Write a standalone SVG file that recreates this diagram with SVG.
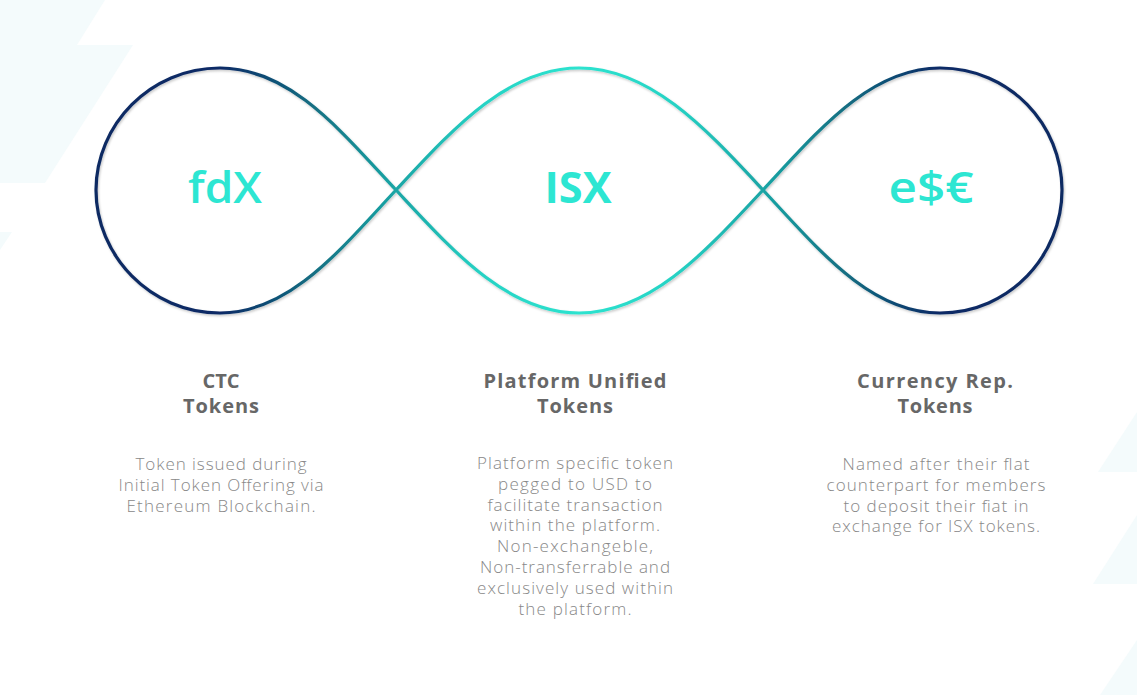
<svg xmlns="http://www.w3.org/2000/svg" width="1137" height="695" viewBox="0 0 1137 695">
  <defs>
    <linearGradient id="wave" gradientUnits="userSpaceOnUse" x1="96" y1="0" x2="1062" y2="0">
      <stop offset="0" stop-color="#0c2962"/>
      <stop offset="0.13" stop-color="#0d2b66"/>
      <stop offset="0.23" stop-color="#137284"/>
      <stop offset="0.31" stop-color="#1aa5a5"/>
      <stop offset="0.40" stop-color="#26d2c4"/>
      <stop offset="0.50" stop-color="#2de3cf"/>
      <stop offset="0.60" stop-color="#26d2c4"/>
      <stop offset="0.69" stop-color="#1aa5a5"/>
      <stop offset="0.77" stop-color="#137284"/>
      <stop offset="0.87" stop-color="#0d2b66"/>
      <stop offset="1" stop-color="#0c2962"/>
    </linearGradient>
    <filter id="shadow" x="-5%" y="-10%" width="110%" height="120%">
      <feDropShadow dx="1" dy="1.5" stdDeviation="1" flood-color="#000" flood-opacity="0.22"/>
    </filter>
  </defs>
  <style>
    .bg { fill: #f4fbfc; }
    .big { font-family: "Open Sans", "Liberation Sans", sans-serif; font-weight: 600; font-size: 43px; fill: #2de6d2; text-anchor: middle; }
    .head { font-family: "Open Sans", "Liberation Sans", sans-serif; font-weight: 700; font-size: 20px; fill: #676767; text-anchor: middle; }
    .body { font-family: "Open Sans", "Liberation Sans", sans-serif; font-weight: 300; font-size: 17px; fill: #888888; text-anchor: middle; }
    .wave { fill: none; stroke: url(#wave); stroke-width: 3.2; filter: url(#shadow); }
  </style>
  <rect width="1137" height="695" fill="#ffffff"/>
  <g id="background">
    <polygon class="bg" points="0,0 105,0 77,45 133,45 45,183 0,183"/>
    <polygon class="bg" points="0,232 12,232 0,250"/>
    <polygon class="bg" points="1137,412 1098,472 1137,472"/>
    <polygon class="bg" points="1137,515 1093,584 1137,584"/>
    <polygon class="bg" points="1137,640 1100,695 1137,695"/>
  </g>
  <g id="connectors">
    <path class="wave" d="M 396,190 C 340,130 290,68 220,68 C 150,68 96,125 96,190 C 96,255 150,313 220,313 C 290,313 340,250 396,190 C 452,250 507,313 579,313 C 651,313 707,250 763,190 C 819,130 870,68 940,68 C 1010,68 1062,125 1062,190 C 1062,255 1010,313 940,313 C 870,313 819,250 763,190 C 707,130 651,68 579,68 C 507,68 452,130 396,190 Z"/>
  </g>
  <g id="node-fdx">
    <text class="big" x="225" y="203" textLength="74" lengthAdjust="spacingAndGlyphs">fdX</text>
    <text class="head" x="221" y="388">CTC</text>
    <text class="head" x="221" y="413" textLength="76">Tokens</text>
    <text class="body" x="221" y="470" textLength="171">Token issued during</text>
    <text class="body" x="221" y="490.8" textLength="205">Initial Token Offering via</text>
    <text class="body" x="221" y="511.6" textLength="189">Ethereum Blockchain.</text>
  </g>
  <g id="node-isx">
    <text class="big" x="578" y="203" textLength="67" lengthAdjust="spacingAndGlyphs" style="font-weight:700">ISX</text>
    <text class="head" x="575" y="388" textLength="183">Platform Unified</text>
    <text class="head" x="575" y="413" textLength="76">Tokens</text>
    <text class="body" x="575" y="469" textLength="196">Platform specific token</text>
    <text class="body" x="575" y="489.8" textLength="154">pegged to USD to</text>
    <text class="body" x="575" y="510.6" textLength="175">facilitate transaction</text>
    <text class="body" x="575" y="531.4" textLength="170">within the platform.</text>
    <text class="body" x="575" y="552.2" textLength="156">Non-exchangeble,</text>
    <text class="body" x="575" y="573" textLength="190">Non-transferrable and</text>
    <text class="body" x="575" y="593.8" textLength="196">exclusively used within</text>
    <text class="body" x="575" y="614.6" textLength="113">the platform.</text>
  </g>
  <g id="node-esc">
    <text class="big" x="931" y="203" textLength="85" lengthAdjust="spacingAndGlyphs">e$€</text>
    <text class="head" x="935" y="388" textLength="156">Currency Rep.</text>
    <text class="head" x="935" y="413" textLength="75">Tokens</text>
    <text class="body" x="936" y="470" textLength="187">Named after their flat</text>
    <text class="body" x="936" y="490.8" textLength="219">counterpart for members</text>
    <text class="body" x="936" y="511.6" textLength="185">to deposit their fiat in</text>
    <text class="body" x="936" y="532.4" textLength="208">exchange for ISX tokens.</text>
  </g>
</svg>
